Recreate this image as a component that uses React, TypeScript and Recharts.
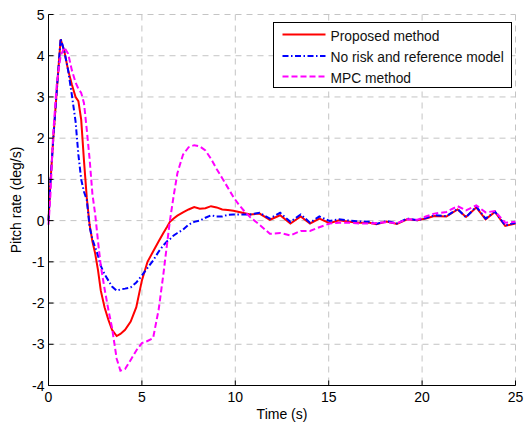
import React from 'react';
import {
  LineChart,
  Line,
  XAxis,
  YAxis,
  CartesianGrid,
  Legend,
} from 'recharts';

// Sample times (s)
const TIME = [
  0, 0.1, 0.25, 0.45, 0.65, 0.85, 1.05, 1.25, 1.45, 1.6, 1.75, 1.9, 2.05, 2.2, 2.35, 2.5,
  2.65, 2.8, 3.0, 3.2, 3.4, 3.65, 3.85, 4.1, 4.4, 4.7, 5.0, 5.3, 5.6, 5.9, 6.15, 6.35,
  6.5, 6.7, 6.9, 7.2, 7.5, 7.8, 8.1, 8.4, 8.7, 9.0, 9.3, 9.6, 9.9, 10.2, 10.5, 10.8,
  11.3, 11.85, 12.4, 12.95, 13.5, 14.0, 14.5, 15.05, 15.55, 16.1, 16.65, 17.2, 17.55,
  18.1, 18.65, 19.2, 19.75, 20.2, 20.65, 21.3, 21.9, 22.35, 22.9, 23.4, 23.9, 24.45, 25,
];

// Pitch rate (deg/s) for each controller
const PROPOSED = [
  0.0, 0.9, 1.95, 3.2, 4.4, 4.1, 3.65, 3.3, 3.0, 2.9, 2.45, 1.45, 0.55, -0.1, -0.5, -0.8,
  -1.2, -1.7, -2.1, -2.4, -2.65, -2.8, -2.75, -2.65, -2.45, -2.1, -1.45, -1.0, -0.75, -0.5, -0.3, -0.15,
  -0.03, 0.05, 0.12, 0.2, 0.27, 0.33, 0.29, 0.3, 0.35, 0.32, 0.27, 0.26, 0.24, 0.21, 0.18, 0.15,
  0.17, 0.02, 0.13, -0.07, 0.1, -0.07, 0.05, -0.06, 0.01, -0.03, -0.05, -0.05, -0.09,
  -0.02, -0.08, 0.03, 0.01, 0.05, 0.11, 0.1, 0.27, 0.09, 0.32, 0.03, 0.21, -0.13, -0.07,
];

const NO_RISK = [
  0.0, 0.9, 1.95, 3.2, 4.42, 4.1, 3.65, 3.05, 2.4, 1.6, 1.0, 0.7, 0.5, -0.15, -0.45, -0.65,
  -0.85, -1.1, -1.3, -1.45, -1.6, -1.7, -1.67, -1.65, -1.62, -1.5, -1.33, -1.15, -0.97, -0.75, -0.6, -0.5,
  -0.45, -0.36, -0.3, -0.22, -0.1, -0.03, 0.0, 0.07, 0.13, 0.1, 0.1, 0.14, 0.15, 0.15, 0.15, 0.15,
  0.19, 0.05, 0.19, -0.03, 0.15, -0.05, 0.1, -0.01, 0.03, 0.0, -0.02, -0.03, -0.08,
  -0.01, -0.07, 0.05, 0.01, 0.06, 0.13, 0.11, 0.28, 0.08, 0.34, 0.05, 0.22, -0.12, -0.05,
];

const MPC = [
  -0.1, 0.6, 2.1, 3.35, 4.0, 4.2, 4.05, 3.65, 3.35, 3.2, 3.1, 2.85, 2.2, 1.5, 0.65, 0.15,
  -0.5, -1.1, -1.65, -2.15, -2.6, -3.35, -3.64, -3.6, -3.38, -3.15, -2.97, -2.92, -2.85, -2.15, -1.3, -0.55,
  0.0, 0.6, 1.15, 1.6, 1.78, 1.83, 1.8, 1.7, 1.5, 1.25, 1.03, 0.8, 0.57, 0.38, 0.22, 0.08,
  -0.1, -0.32, -0.3, -0.36, -0.25, -0.25, -0.16, -0.07, -0.05, -0.05, -0.07, -0.07, -0.06,
  -0.04, -0.06, 0.03, 0.02, 0.1, 0.17, 0.21, 0.35, 0.25, 0.37, 0.2, 0.23, -0.05, -0.03,
];

const X_TICKS = [0, 5, 10, 15, 20, 25];
const Y_TICKS = [-4, -3, -2, -1, 0, 1, 2, 3, 4, 5];

const SERIES = [
  { key: 'proposed', name: 'Proposed method', color: '#ff0000', dash: undefined as string | undefined },
  { key: 'noRisk', name: 'No risk and reference model', color: '#0000ff', dash: '6 2.5 1.5 2.5' },
  { key: 'mpc', name: 'MPC method', color: '#ff00ff', dash: '6 3' },
];

const data = TIME.map((t, i) => ({
  t,
  proposed: PROPOSED[i],
  noRisk: NO_RISK[i],
  mpc: MPC[i],
}));

const FONT = '"Liberation Sans", Arial, Helvetica, sans-serif';
const TICK_LEN = 5;

function BottomTick(props: any) {
  const { x, y, payload } = props;
  return (
    <g>
      <line x1={x} y1={y - 7} x2={x} y2={y - 7 - TICK_LEN} stroke="#000" strokeWidth={1} />
      <text x={x} y={y} dy="0.71em" textAnchor="middle" fontSize={14} fontFamily={FONT} fill="#000">
        {payload.value}
      </text>
    </g>
  );
}

function LeftTick(props: any) {
  const { x, y, payload } = props;
  return (
    <g>
      <line x1={x + 4} y1={y} x2={x + 4 + TICK_LEN} y2={y} stroke="#000" strokeWidth={1} />
      <text x={x} y={y} dy="0.36em" textAnchor="end" fontSize={14} fontFamily={FONT} fill="#000">
        {payload.value}
      </text>
    </g>
  );
}

function RightTick(props: any) {
  const { x, y } = props;
  return <line x1={x} y1={y} x2={x - TICK_LEN} y2={y} stroke="#000" strokeWidth={1} />;
}

function TopTick(props: any) {
  const { x, y } = props;
  return <line x1={x} y1={y} x2={x} y2={y + TICK_LEN} stroke="#000" strokeWidth={1} />;
}

function LegendBox() {
  const rows = [11.5, 33, 53.5];
  return (
    <div
      style={{
        border: '1px solid #000',
        background: '#fff',
        width: 237,
        height: 64,
      }}
    >
      <svg width={237} height={64} style={{ display: 'block' }}>
        {SERIES.map((s, i) => (
          <g key={s.key}>
            <line
              x1={8.5}
              y1={rows[i]}
              x2={51.5}
              y2={rows[i]}
              stroke={s.color}
              strokeWidth={2}
              strokeDasharray={s.dash}
            />
            <text x={56.5} y={rows[i] + 6} fontSize={13.8} fontFamily={FONT} fill="#111">
              {s.name}
            </text>
          </g>
        ))}
      </svg>
    </div>
  );
}

export default function App() {
  return (
    <div style={{ position: 'absolute', left: 0, top: 0, background: '#fff' }}>
      <LineChart
        width={525}
        height={422}
        data={data}
        margin={{ top: 14.5, right: 9.5, bottom: 0, left: 0 }}
      >
        <CartesianGrid stroke="#c4c4c4" strokeDasharray="6 5" strokeWidth={1} />
        <XAxis
          dataKey="t"
          type="number"
          domain={[0, 25]}
          ticks={X_TICKS}
          interval={0}
          height={36.5}
          tickSize={0}
          tickMargin={7}
          tickLine={false}
          axisLine={{ stroke: '#000', strokeWidth: 1 }}
          tick={<BottomTick />}
          label={{
            content: (p: any) => {
              const vb = p.viewBox;
              return (
                <text
                  x={vb.x + vb.width / 2}
                  y={vb.y + 33.5}
                  textAnchor="middle"
                  fontSize={14}
                  fontFamily={FONT}
                  fill="#000"
                >
                  Time (s)
                </text>
              );
            },
          }}
        />
        <XAxis
          xAxisId="top"
          orientation="top"
          type="number"
          domain={[0, 25]}
          ticks={X_TICKS}
          interval={0}
          height={0}
          tickSize={0}
          tickMargin={0}
          tickLine={false}
          axisLine={{ stroke: '#000', strokeWidth: 1 }}
          tick={<TopTick />}
        />
        <YAxis
          type="number"
          domain={[-4, 5]}
          ticks={Y_TICKS}
          interval={0}
          width={48.5}
          tickSize={0}
          tickMargin={4}
          tickLine={false}
          axisLine={{ stroke: '#000', strokeWidth: 1 }}
          tick={<LeftTick />}
          label={{
            content: (p: any) => {
              const vb = p.viewBox;
              const cx = 21;
              const cy = vb.y + vb.height / 2;
              return (
                <text
                  x={cx}
                  y={cy}
                  transform={`rotate(-90 ${cx} ${cy})`}
                  textAnchor="middle"
                  fontSize={14}
                  fontFamily={FONT}
                  fill="#000"
                >
                  Pitch rate (deg/s)
                </text>
              );
            },
          }}
        />
        <YAxis
          yAxisId="right"
          orientation="right"
          type="number"
          domain={[-4, 5]}
          ticks={Y_TICKS}
          interval={0}
          width={0}
          tickSize={0}
          tickMargin={0}
          tickLine={false}
          axisLine={{ stroke: '#000', strokeWidth: 1 }}
          tick={<RightTick />}
        />
        {SERIES.map((s) => (
          <Line
            key={s.key}
            type="linear"
            dataKey={s.key}
            name={s.name}
            stroke={s.color}
            strokeWidth={2}
            strokeDasharray={s.dash}
            dot={false}
            activeDot={false}
            isAnimationActive={false}
          />
        ))}
        <Legend
          layout="vertical"
          align="center"
          verticalAlign="middle"
          content={<LegendBox />}
          wrapperStyle={{ left: 273, top: 22, width: 239, height: 66 }}
        />
      </LineChart>
    </div>
  );
}
